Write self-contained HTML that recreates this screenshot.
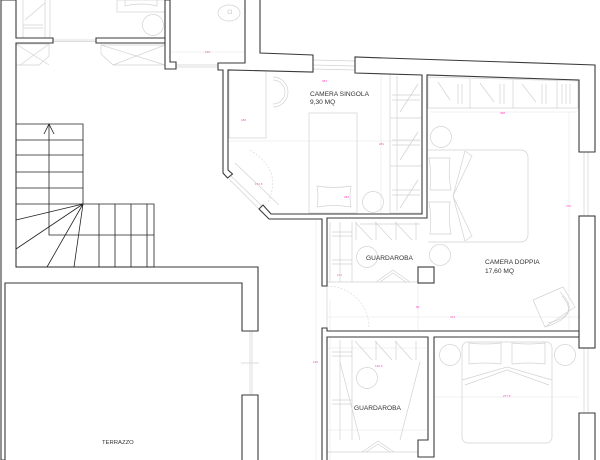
<!DOCTYPE html>
<html>
<head>
<meta charset="utf-8">
<style>
html,body{margin:0;padding:0;background:#fff;}
body{width:600px;height:460px;overflow:hidden;}
svg{display:block;}
.w{fill:#fff;stroke:#3a3a3a;stroke-width:1.1;stroke-linejoin:miter;}
.s{fill:none;stroke:#222;stroke-width:0.8;}
.f{fill:none;stroke:#d2d2d2;stroke-width:0.7;}
.ff{fill:none;stroke:#e6e6e6;stroke-width:0.6;}
.d{fill:none;stroke:#d6d6d6;stroke-width:0.6;stroke-dasharray:2 1.5;}
.t{font-family:"Liberation Sans",sans-serif;font-size:6.6px;fill:#333;}
.p{font-family:"Liberation Sans",sans-serif;font-size:3px;fill:#ff3fbf;}
</style>
</head>
<body>
<svg width="600" height="460" viewBox="0 0 600 460" xmlns="http://www.w3.org/2000/svg">

<!-- faint guide lines -->
<line class="ff" x1="170" y1="52" x2="245" y2="52"/>
<line class="ff" x1="316" y1="220" x2="316" y2="460"/>
<line class="ff" x1="327" y1="317" x2="579" y2="317"/>
<line class="ff" x1="569" y1="112" x2="569" y2="330"/>
<line class="ff" x1="430" y1="112" x2="577" y2="112"/>
<line class="ff" x1="433" y1="397" x2="579" y2="397"/>
<line class="ff" x1="418" y1="283" x2="418" y2="331"/>
<line class="ff" x1="229" y1="141" x2="422" y2="141"/>
<line class="ff" x1="381" y1="74" x2="381" y2="214"/>
<line class="ff" x1="330" y1="300" x2="330" y2="460"/>
<line class="ff" x1="328" y1="348" x2="426" y2="348"/>
<line class="ff" x1="328" y1="430" x2="426" y2="430"/>

<!-- top-left room fixtures -->
<line class="f" x1="23" y1="0" x2="23" y2="38"/>
<line class="f" x1="45" y1="0" x2="45" y2="38"/>
<line class="f" x1="50" y1="0" x2="50" y2="38"/>
<line class="f" x1="23" y1="25" x2="43" y2="25"/>
<line class="f" x1="23" y1="28" x2="43" y2="28"/>
<line class="f" x1="25" y1="20" x2="45" y2="3"/>
<rect class="f" x="117" y="0" width="48" height="12"/>
<path class="f" d="M125,0 V6 Q141,2 157,6 V0"/>
<circle class="f" cx="153" cy="25" r="10.5"/>
<path class="f" d="M16,44 H49 V56 L39,65 H16"/>
<path class="f" d="M16,44 L49,65 M49,44 L20,65"/>
<path class="f" d="M101,45 H165 V65 H113 L101,54 Z"/>
<path class="f" d="M101,45 L165,65 M165,45 L113,65"/>
<line class="f" x1="53" y1="40" x2="96" y2="40"/>
<line class="f" x1="53" y1="41.5" x2="96" y2="41.5"/>
<!-- WC -->
<ellipse class="f" cx="229" cy="13" rx="11" ry="8"/>
<rect class="f" x="228" y="10" width="3.5" height="3.5"/>
<line class="f" x1="176" y1="65" x2="218" y2="65"/>
<line class="f" x1="176" y1="67" x2="218" y2="67"/>
<text class="p" x="205" y="53">140</text>

<!-- singola window gap -->
<line class="f" x1="313" y1="60" x2="355" y2="61"/>
<line class="f" x1="313" y1="65" x2="355" y2="66"/>
<line class="f" x1="313" y1="69" x2="355" y2="70"/>

<!-- camera singola furniture -->
<rect class="f" x="229" y="70" width="37" height="68"/>
<path class="f" d="M273,77 A15,15 0 0 1 273,107"/>
<path class="f" d="M273,80 A12,12 0 0 1 273,104"/>
<rect class="f" x="309" y="113" width="48" height="100"/>
<path class="f" d="M317,186 Q334,189 351,186 Q349,196 351,207 Q334,204 317,207 Q319,196 317,186 Z"/>
<circle class="f" cx="373" cy="202" r="10.5"/>
<rect class="f" x="390" y="74" width="32" height="139"/>
<line class="f" x1="390" y1="118" x2="422" y2="118"/>
<line class="f" x1="390" y1="166" x2="422" y2="166"/>
<line class="f" x1="397" y1="76" x2="397" y2="211"/>
<line class="f" x1="392" y1="95" x2="420" y2="95"/>
<line class="f" x1="392" y1="100" x2="420" y2="100"/>
<line class="f" x1="392" y1="140" x2="420" y2="140"/>
<line class="f" x1="392" y1="145" x2="420" y2="145"/>
<line class="f" x1="392" y1="190" x2="420" y2="190"/>
<line class="f" x1="392" y1="195" x2="420" y2="195"/>
<line class="f" x1="400" y1="112" x2="418" y2="84"/>
<line class="f" x1="400" y1="160" x2="418" y2="132"/>
<line class="f" x1="400" y1="208" x2="418" y2="180"/>
<path class="d" d="M250,150 Q283,170 268,202"/>
<line class="f" x1="235" y1="163" x2="279" y2="205"/>
<line class="f" x1="231" y1="176" x2="262" y2="206"/>
<line class="f" x1="229" y1="179" x2="259" y2="209"/>
<text class="p" x="322" y="82">381</text>
<text class="p" x="241" y="121">180</text>
<text class="p" x="379" y="145">281</text>
<text class="p" x="255" y="185">171,5</text>
<text class="p" x="344" y="198">284</text>
<text class="t" x="310" y="96">CAMERA SINGOLA</text>
<text class="t" x="310" y="104">9,30 MQ</text>

<!-- camera doppia furniture -->
<path class="f" d="M428,77 L578,81 V108 H428 Z"/>
<line class="f" x1="470" y1="79" x2="470" y2="108"/>
<line class="f" x1="513" y1="80" x2="513" y2="108"/>
<line class="f" x1="557" y1="80" x2="557" y2="108"/>
<path class="f" d="M438,82 L450,100 M458,84 V104 M462,84 V104 M480,83 L494,102 M500,84 V104 M504,84 V104 M522,84 L536,102 M542,84 V104 M546,84 V104 M562,84 V104 M566,84 V104 M570,84 V104"/>
<text class="p" x="500" y="114">398</text>
<circle class="f" cx="441" cy="137" r="10.5"/>
<path class="f" d="M428,150 H520 Q528,150 528,158 V234 Q528,242 520,242 H428"/>
<path class="f" d="M429,158 H450 Q448,174 451,190 H430 Q432,174 429,158 Z"/>
<path class="f" d="M429,202 H450 Q448,218 451,234 H430 Q432,218 429,202 Z"/>
<path class="f" d="M465,151 L472,156 L453,196 L472,236 L465,241"/>
<path class="f" d="M465,151 L453,196 L465,241"/>
<circle class="f" cx="440" cy="255" r="10.5"/>
<path class="f" d="M533,300 L563,287 L575,307 L545,327 Z"/>
<path class="f" d="M560,292 Q584,315 545,327"/>
<path class="f" d="M562,296 Q580,316 548,323"/>
<text class="p" x="566" y="207">472</text>
<text class="p" x="450" y="318">474</text>
<text class="p" x="416" y="308">90</text>
<text class="p" x="337" y="276">271</text>
<text class="t" x="485" y="264">CAMERA DOPPIA</text>
<text class="t" x="485" y="273">17,60 MQ</text>

<!-- right window gaps -->
<line class="f" x1="584" y1="152" x2="584" y2="216"/>
<line class="f" x1="588" y1="152" x2="588" y2="216"/>
<line class="f" x1="584" y1="348" x2="584" y2="413"/>
<line class="f" x1="588" y1="348" x2="588" y2="413"/>

<!-- upper guardaroba -->
<path class="f" d="M330,222 V282 M340,222 V282 M352,222 V282 M332,232 H352 M332,236 H352 M332,260 H352 M332,264 H352 M355,222 L372,240 M375,222 L392,240 M395,222 L412,240 M356,222 V240 M376,222 V240 M396,222 V240 M416,222 V240 M360,224 H420"/>
<line class="f" x1="327" y1="282" x2="418" y2="282"/>
<path class="f" d="M376,282 L393,270 L410,282 M380,282 L393,273 L406,282"/>
<circle class="f" cx="367" cy="257" r="10.5"/>
<text class="t" x="366" y="260">GUARDAROBA</text>
<path class="d" d="M327,286 A42,42 0 0 1 369,328"/>
<line class="f" x1="327" y1="286" x2="327" y2="328"/>

<!-- lower guardaroba -->
<path class="f" d="M340,340 V440 M352,340 V440 M332,352 H352 M332,356 H352 M332,400 H352 M332,404 H352 M355,341 L372,360 M375,341 L392,360 M395,341 L412,360 M376,341 V360 M396,341 V360 M416,341 V360 M340,362 L360,440 M420,362 L400,440"/>
<path class="f" d="M362,452 L378,441 L394,452 M366,452 L378,444 L390,452 M327,452 H418"/>
<circle class="f" cx="367" cy="378" r="10.5"/>
<text class="t" x="354" y="410">GUARDAROBA</text>
<text class="p" x="375" y="367">140,5</text>
<text class="p" x="313" y="363">120</text>

<!-- lower bedroom -->
<circle class="f" cx="450" cy="355" r="10.5"/>
<circle class="f" cx="565" cy="355" r="10.5"/>
<rect class="f" x="462" y="342" width="90" height="101" rx="6" ry="6"/>
<path class="f" d="M469,343 Q485,345 501,343 V364 Q485,362 469,364 Z"/>
<path class="f" d="M512,343 Q528,345 545,343 V364 Q528,362 512,364 Z"/>
<path class="f" d="M462,380 L507,367 L552,380"/>
<path class="f" d="M465,385 L507,370 L549,385"/>
<text class="p" x="503" y="397">277,5</text>

<!-- terrace -->
<line class="f" x1="250" y1="331" x2="250" y2="395"/>
<line class="f" x1="252" y1="331" x2="252" y2="395"/>
<line class="f" x1="241" y1="363" x2="259" y2="363"/>
<text class="t" x="102" y="444" style="font-size:5.9px">TERRAZZO</text>

<!-- WALLS -->
<path class="w" d="M1,0 V460 H5 V283 H242 V331 H258 V267 H16 V43 H53 V38 H16 V0 Z"/>
<path class="w" d="M96,38 H165 V0 H170 V62 H176 V69 H165 V43 H96 Z"/>
<line class="w" x1="165" y1="38" x2="165" y2="43"/>
<path class="w" d="M245,0 V63 H218 V70 H223 V173 L227.5,178 L232.5,174 L228,170 V70 L313,72 V55 L260,53 V0"/>
<path class="w" d="M259,209 L263,205 L271,214 H422 V75 L355,73 V57 L595,65 V152 H579 V80 L427,75 V218 H327 V286 H322 V219 H269 Z"/>
<rect class="w" x="579" y="216" width="16" height="132"/>
<path class="w" d="M579,461 V413 H595 V461"/>
<path class="w" d="M322,461 V328 H327 V331 H579 V337 H434 V457 H418 V440 H428 V337 H327 V461"/>
<rect class="w" x="418" y="267" width="16" height="16"/>
<path class="w" d="M242,461 V395 H258 V461"/>

<!-- STAIRS -->
<path class="s" d="M16,124 H83 V204 M16,140 H83 M16,155 H83 M16,172 H83 M16,188 H83 M16,204 H154 V267"/>
<path class="s" d="M49,124 V235 H154"/>
<path class="s" d="M44,134 L49,124 L54,134"/>
<path class="s" d="M83,204 L16,220 M83,204 L16,249 M83,204 L47,267 M83,204 L74,267"/>
<path class="s" d="M99,204 V267 M115,204 V267 M131,204 V267 M147,204 V267"/>
<line class="s" x1="16" y1="267" x2="154" y2="267"/>
</svg>
</body>
</html>
